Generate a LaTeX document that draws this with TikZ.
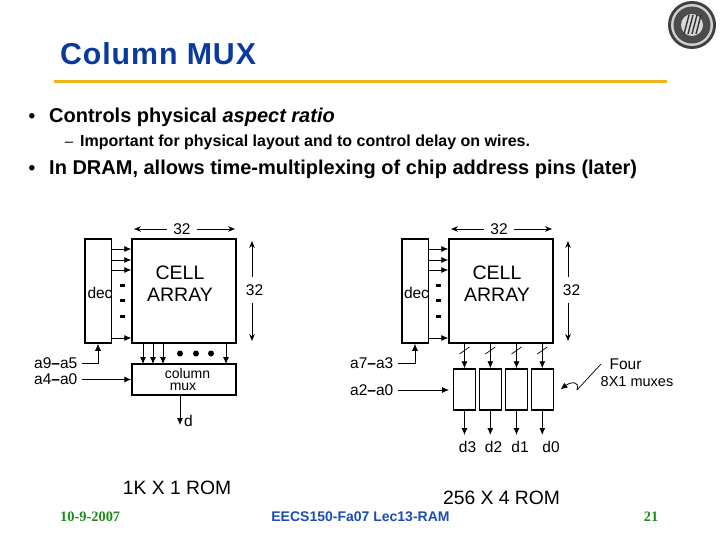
\documentclass[tikz,border=0pt]{standalone}
\usepackage{fontspec}
\setmainfont{Liberation Sans}
\newfontfamily\footserif{Liberation Serif}
\newfontfamily\titlesans[LetterSpace=3]{Liberation Sans}
\usetikzlibrary{arrows.meta,calc,positioning}
\definecolor{SlideBlue}{HTML}{0A3A9E}
\definecolor{SlideGold}{HTML}{EDB41E}
\definecolor{SlideGreen}{HTML}{1E8A1E}
\definecolor{SlideNavy}{HTML}{1E4DB0}
\definecolor{SealGray}{HTML}{8A8A8A}
\tikzset{
  block/.style={draw=black,line width=1.5pt,fill=white,inner sep=0pt},
  wire/.style={black,line width=0.8pt,-{Latex[length=7pt,width=6pt]}},
  dimwire/.style={black,line width=0.7pt,-{Stealth[length=7pt,width=5.5pt]}},
  lab/.style={inner sep=0pt,font=\fontsize{15.5}{17}\selectfont},
  bigtag/.style={inner sep=0pt,font=\fontsize{19.3}{21}\selectfont},
  bullettxt/.style={anchor=base west,inner sep=0pt,font=\bfseries\fontsize{20}{24}\selectfont},
  bulletdot/.style={anchor=base,inner sep=0pt,font=\bfseries\fontsize{19}{24}\selectfont},
}
\begin{document}
\begin{tikzpicture}[x=1pt,y=-1pt]
  \useasboundingbox (0,0) rectangle (720,540);
  % title and rule
  \node[anchor=base west,inner sep=0pt,text=SlideBlue,font=\titlesans\bfseries\fontsize{30.3}{32}\selectfont] (title) at (60,65) {Column MUX};
  \draw[SlideGold,line width=3pt] (54,81.5) -- (667,81.5);
  % seal
  \fill[black!75] (692,25) circle (24);
  \fill[SealGray!40] (692,25) circle (21);
  \fill[black!70] (692,25) circle (18.5);
  \fill[white!85!black] (692,25) circle (11);
  \foreach \k in {-6,-2,2,6}
    \draw[black!80,line width=1.4pt] (692+\k-2,34) -- (692+\k+3,15);
  % bullets
  \node[bullettxt] (b1) at (49,123) {Controls physical \textit{aspect ratio}};
  \node[bulletdot] (d1) at (32,123) {•};
  \node[anchor=base west,inner sep=0pt,font=\bfseries\fontsize{16}{18}\selectfont] (b2) at (80,147) {Important for physical layout and to control delay on wires.};
  \node[anchor=base,inner sep=0pt,font=\fontsize{15}{18}\selectfont] (d2) at (69,147) {–};
  \node[bullettxt] (b3) at (49,175) {In DRAM, allows time-multiplexing of chip address pins (later)};
  \node[bulletdot] (d3) at (32,175) {•};
  % left memory
  \node[block,minimum width=104pt,minimum height=104pt] (cellL) at (184,291) {};
  \node[block,minimum width=26.5pt,minimum height=104pt] (decL) at (98,291) {};
  \node[block,minimum width=104pt,minimum height=31pt] (muxL) at (184,379.5) {};
  \node[lab] at (100,293) {dec};
  \node[align=center,inner sep=0pt,font=\fontsize{19.5}{21.5}\selectfont] (cellLtxt) at (180,283.5) {CELL\\ARRAY};
  \node[inner sep=0pt,font=\fontsize{14}{15}\selectfont] (colLtxt) at (187.5,373) {column};
  \node[inner sep=0pt,font=\fontsize{14}{15}\selectfont] (mxLtxt) at (183,386.5) {mux};
  \foreach \y in {249,260,270,338}
    \draw[wire] (decL.east |- 0,\y) -- (cellL.west |- 0,\y);
  \foreach \y in {285,300,316}
    \fill (120,\y-1.5) rectangle (124.5,\y+1.5);
  % top and side dimensions
  \node[lab] (w32L) at (182,229) {32};
  \coordinate (wLa) at (134,229);
  \coordinate (wLb) at (235,229);
  \draw[dimwire] (w32L.west) ++(-6,0) -- (wLa);
  \draw[dimwire] (w32L.east) ++(6,0) -- (wLb);
  \node[lab] (h32L) at (254.5,290) {32};
  \coordinate (hLa) at (252,241);
  \coordinate (hLb) at (252,341);
  \draw[dimwire] (hLa |- h32L.north) ++(0,-7) -- (hLa);
  \draw[dimwire] (hLa |- h32L.south) ++(0,7) -- (hLb);
  % column wires
  \foreach \x in {143,153,163,226}
    \draw[wire] (\x,343) -- (\x,364);
  \foreach \x in {180,196,211}
    \fill (\x,353.5) circle (3);
  % left address labels
  \node[lab,anchor=west] (a95) at (34,363.5) {a9\textbf{–}a5};
  \node[lab,anchor=west] (a40) at (34,379.5) {a4\textbf{–}a0};
  \draw[wire] (a95.east) ++(4,0) -| (decL.south);
  \draw[wire] (a40.east) ++(4,0) -- (muxL.west);
  \coordinate (dL) at (180,425);
  \draw[wire] (muxL.south -| dL) -- (dL);
  \node[lab,anchor=west] (dLtxt) at (184,421) {d};
  \node[bigtag,anchor=base] (romL) at (177,494) {1K X 1 ROM};
  % right memory
  \node[block,minimum width=104pt,minimum height=104pt] (cellR) at (501,291) {};
  \node[block,minimum width=26.5pt,minimum height=104pt] (decR) at (415,291) {};
  \node[lab] at (416.5,293) {dec};
  \node[align=center,inner sep=0pt,font=\fontsize{19.5}{21.5}\selectfont] (cellRtxt) at (497,283.5) {CELL\\ARRAY};
  \foreach \y in {249,260,270,338}
    \draw[wire] (decR.east |- 0,\y) -- (cellR.west |- 0,\y);
  \foreach \y in {285,300,316}
    \fill (436,\y-1.5) rectangle (441,\y+1.5);
  \node[lab] (w32R) at (499,229) {32};
  \coordinate (wRa) at (451,229);
  \coordinate (wRb) at (552,229);
  \draw[dimwire] (w32R.west) ++(-6,0) -- (wRa);
  \draw[dimwire] (w32R.east) ++(6,0) -- (wRb);
  \node[lab] (h32R) at (571.5,290) {32};
  \coordinate (hRa) at (568,241);
  \coordinate (hRb) at (568,341);
  \draw[dimwire] (hRa |- h32R.north) ++(0,-7) -- (hRa);
  \draw[dimwire] (hRa |- h32R.south) ++(0,7) -- (hRb);
  % four muxes
  \foreach \n/\x/\d/\tx in {m3/464.5/d3/467.5,m2/490.3/d2/493.5,m1/516.5/d1/520,m0/542.3/d0/551} {
    \node[block,minimum width=22pt,minimum height=41pt] (\n) at (\x,389.5) {};
    \draw[wire] (\x,343) -- (\n.north);
    \draw[black,line width=0.7pt] (\x-5,354) -- (\x+5,347);
    \coordinate (\n out) at (\x,435);
    \draw[wire] (\n.south) -- (\n out);
    \node[lab,anchor=base] (\d) at (\tx,452) {\d};
  }
  \node[lab,anchor=west] (a73) at (350,363.5) {a7\textbf{–}a3};
  \node[lab,anchor=west] (a20) at (350,390) {a2\textbf{–}a0};
  \draw[wire] (a73.east) ++(4,0) -| (decR.south);
  \coordinate (a20end) at (449,390);
  \draw[wire] (a20.east) ++(4,0) -- (a20end);
  % note on the muxes
  \node[lab,anchor=base] (four) at (625.5,369) {Four};
  \node[inner sep=0pt,anchor=base,font=\fontsize{14.5}{16}\selectfont] (eightx) at (637,386) {8X1 muxes};
  \coordinate (noteA) at (601,364);
  \coordinate (noteB) at (577,390);
  \coordinate (noteC) at (560.5,389.5);
  \draw[black,line width=0.7pt] (noteA) -- (noteB);
  \draw[wire] (noteB) .. controls (580,380) and (570,382) .. (noteC);
  \node[bigtag,anchor=base] (romR) at (501.5,504) {256 X 4 ROM};
  % footer
  \node[anchor=base west,inner sep=0pt,text=SlideGreen,font=\footserif\bfseries\fontsize{14.4}{16}\selectfont] (fdate) at (60,521) {10-9-2007};
  \node[anchor=base,inner sep=0pt,text=SlideNavy,font=\bfseries\fontsize{14}{16}\selectfont] (ftitle) at (360.5,521) {EECS150-Fa07 Lec13-RAM};
  \node[anchor=base,inner sep=0pt,text=SlideGreen,font=\footserif\bfseries\fontsize{14.4}{16}\selectfont] (fnum) at (651,521) {21};
\end{tikzpicture}
\end{document}
